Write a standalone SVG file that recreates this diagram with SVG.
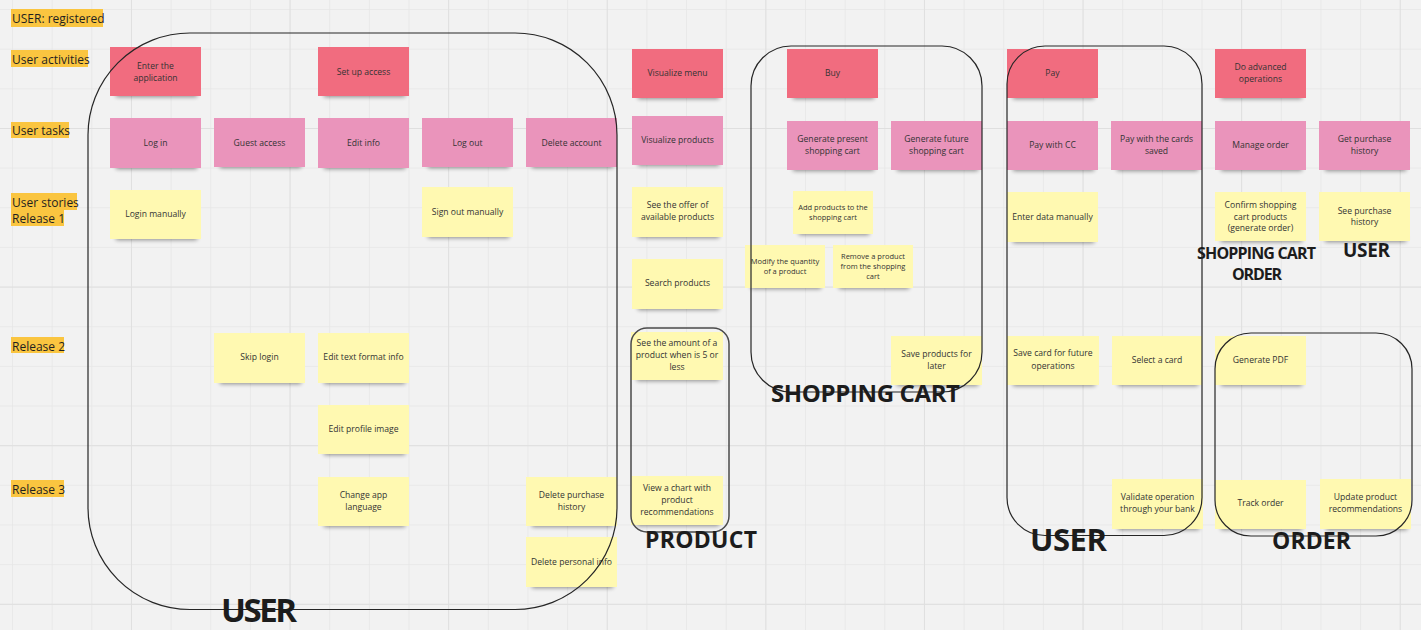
<svg xmlns="http://www.w3.org/2000/svg" width="1421" height="630" viewBox="0 0 1421 630">
  <defs>
    <!-- board grid: minor cells and a heavier line every fourth cell -->
    <pattern id="gridMinor" patternUnits="userSpaceOnUse" x="12" y="9" width="39.65" height="39.65">
      <path d="M0 0H39.65M0 0V39.65" fill="none" stroke="#e6e6e6" stroke-width="1.6"/>
    </pattern>
    <pattern id="gridMajor" patternUnits="userSpaceOnUse" x="-27.65" y="-30.6" width="158.6" height="158.6">
      <path d="M0 0H158.6M0 0V158.6" fill="none" stroke="#dfdfdf" stroke-width="1.8"/>
    </pattern>
    <filter id="soft" x="-20%" y="-100%" width="140%" height="300%">
      <feGaussianBlur stdDeviation="2"/>
    </filter>
    <style>
      .sh { fill: #000; opacity: .42; filter: url(#soft); }
      .act { fill: #f16c7f; }
      .task { fill: #ea94bb; }
      .story { fill: #fff9b1; }
      .t { font-family: "Open Sans", "Liberation Sans", sans-serif; font-size: 8.6px; fill: #333; text-anchor: middle; }
      .ts { font-size: 7.5px; }
      .hl { fill: #fac540; }
      .lbl { font-family: "Open Sans", "Liberation Sans", sans-serif; font-size: 12px; fill: #1f1f1f; }
      .frame { fill: none; stroke: #262626; stroke-width: 1.2; }
      .big { font-family: "Open Sans", "Liberation Sans", sans-serif; font-weight: 700; fill: #1c1c1c; }
    </style>
  </defs>

  <rect width="1421" height="630" fill="#f2f2f2"/>
  <rect width="1421" height="630" fill="url(#gridMinor)"/>
  <rect width="1421" height="630" fill="url(#gridMajor)"/>

  <!-- row headings -->
  <g id="row-labels">
    <rect class="hl" x="11" y="9" width="92" height="18"/>
    <text class="lbl" x="12" y="22.5">USER: registered</text>
    <rect class="hl" x="11" y="50" width="77" height="17"/>
    <text class="lbl" x="12" y="63.5">User activities</text>
    <rect class="hl" x="11" y="122" width="58" height="16"/>
    <text class="lbl" x="12" y="135">User tasks</text>
    <rect class="hl" x="11" y="193" width="66" height="17"/>
    <text class="lbl" x="12" y="206.5">User stories</text>
    <rect class="hl" x="11" y="210" width="53" height="16"/>
    <text class="lbl" x="12" y="223">Release 1</text>
    <rect class="hl" x="11" y="337" width="53" height="16"/>
    <text class="lbl" x="12" y="350.5">Release 2</text>
    <rect class="hl" x="11" y="480" width="53" height="17"/>
    <text class="lbl" x="12" y="494">Release 3</text>
  </g>

  <!-- activities -->
  <g id="act-enter"><rect class="sh" x="116" y="89" width="81" height="8"/><rect class="act" x="110" y="47" width="91" height="49"/><text class="t"><tspan x="155.5" y="68.5">Enter the</tspan><tspan x="155.5" y="80.5">application</tspan></text></g>
  <g id="act-setup"><rect class="sh" x="324" y="89" width="81" height="8"/><rect class="act" x="318" y="47" width="91" height="49"/><text class="t" x="363.5" y="74.5">Set up access</text></g>
  <g id="act-menu"><rect class="sh" x="638" y="91" width="81" height="8"/><rect class="act" x="632" y="49" width="91" height="49"/><text class="t" x="677.5" y="76">Visualize menu</text></g>
  <g id="act-buy"><rect class="sh" x="793" y="91" width="81" height="8"/><rect class="act" x="787" y="49" width="91" height="49"/><text class="t" x="832.5" y="76">Buy</text></g>
  <g id="act-pay"><rect class="sh" x="1013" y="91" width="81" height="8"/><rect class="act" x="1007" y="49" width="91" height="49"/><text class="t" x="1052.5" y="76">Pay</text></g>
  <g id="act-advanced"><rect class="sh" x="1221" y="91" width="81" height="8"/><rect class="act" x="1215" y="49" width="91" height="49"/><text class="t"><tspan x="1260.5" y="70">Do advanced</tspan><tspan x="1260.5" y="82">operations</tspan></text></g>

  <!-- tasks -->
  <g id="task-login"><rect class="sh" x="116" y="161" width="81" height="8"/><rect class="task" x="110" y="118" width="91" height="50"/><text class="t" x="155.5" y="145.5">Log in</text></g>
  <g id="task-guest"><rect class="sh" x="220" y="160" width="81" height="8"/><rect class="task" x="214" y="118" width="91" height="49"/><text class="t" x="259.5" y="145.5">Guest access</text></g>
  <g id="task-edit"><rect class="sh" x="324" y="161" width="81" height="8"/><rect class="task" x="318" y="118" width="91" height="50"/><text class="t" x="363.5" y="145.5">Edit info</text></g>
  <g id="task-logout"><rect class="sh" x="428" y="160" width="81" height="8"/><rect class="task" x="422" y="118" width="91" height="49"/><text class="t" x="467.5" y="145.5">Log out</text></g>
  <g id="task-delete"><rect class="sh" x="532" y="160" width="81" height="8"/><rect class="task" x="526" y="118" width="91" height="49"/><text class="t" x="571.5" y="145.5">Delete account</text></g>
  <g id="task-products"><rect class="sh" x="638" y="158" width="81" height="8"/><rect class="task" x="632" y="116" width="91" height="49"/><text class="t" x="677.5" y="142.5">Visualize products</text></g>
  <g id="task-present"><rect class="sh" x="793" y="163" width="81" height="8"/><rect class="task" x="787" y="121" width="91" height="49"/><text class="t"><tspan x="832.5" y="142">Generate present</tspan><tspan x="832.5" y="154">shopping cart</tspan></text></g>
  <g id="task-future"><rect class="sh" x="897" y="163" width="81" height="8"/><rect class="task" x="891" y="121" width="91" height="49"/><text class="t"><tspan x="936.5" y="142">Generate future</tspan><tspan x="936.5" y="154">shopping cart</tspan></text></g>
  <g id="task-paycc"><rect class="sh" x="1013" y="163" width="81" height="8"/><rect class="task" x="1007" y="121" width="91" height="49"/><text class="t" x="1052.5" y="148">Pay with CC</text></g>
  <g id="task-paysaved"><rect class="sh" x="1117" y="163" width="81" height="8"/><rect class="task" x="1111" y="121" width="91" height="49"/><text class="t"><tspan x="1156.5" y="142">Pay with the cards</tspan><tspan x="1156.5" y="154">saved</tspan></text></g>
  <g id="task-manage"><rect class="sh" x="1221" y="163" width="81" height="8"/><rect class="task" x="1215" y="121" width="91" height="49"/><text class="t" x="1260.5" y="148">Manage order</text></g>
  <g id="task-history"><rect class="sh" x="1325" y="163" width="81" height="8"/><rect class="task" x="1319" y="121" width="91" height="49"/><text class="t"><tspan x="1364.5" y="142">Get purchase</tspan><tspan x="1364.5" y="154">history</tspan></text></g>

  <!-- stories: release 1 -->
  <g id="story-login-manual"><rect class="sh" x="116" y="232" width="81" height="8"/><rect class="story" x="110" y="190" width="91" height="49"/><text class="t" x="155.5" y="216.5">Login manually</text></g>
  <g id="story-signout"><rect class="sh" x="428" y="230" width="81" height="8"/><rect class="story" x="422" y="187" width="91" height="50"/><text class="t" x="467.5" y="214.7">Sign out manually</text></g>
  <g id="story-offer"><rect class="sh" x="638" y="230" width="81" height="8"/><rect class="story" x="632" y="187" width="91" height="50"/><text class="t"><tspan x="677.5" y="208">See the offer of</tspan><tspan x="677.5" y="220">available products</tspan></text></g>
  <g id="story-add"><rect class="sh" x="799" y="227" width="70" height="8"/><rect class="story" x="793" y="191" width="80" height="43"/><text class="t ts"><tspan x="833" y="209.7">Add products to the</tspan><tspan x="833" y="219.7">shopping cart</tspan></text></g>
  <g id="story-modify"><rect class="sh" x="751" y="281" width="70" height="8"/><rect class="story" x="745" y="245" width="80" height="43"/><text class="t ts"><tspan x="785" y="263.5">Modify the quantity</tspan><tspan x="785" y="273.5">of a product</tspan></text></g>
  <g id="story-remove"><rect class="sh" x="839" y="281" width="70" height="8"/><rect class="story" x="833" y="245" width="80" height="43"/><text class="t ts"><tspan x="873" y="258.7">Remove a product</tspan><tspan x="873" y="269">from the shopping</tspan><tspan x="873" y="279">cart</tspan></text></g>
  <g id="story-enter-data"><rect class="sh" x="1013" y="235" width="81" height="8"/><rect class="story" x="1007" y="192" width="91" height="50"/><text class="t" x="1052.5" y="219.7">Enter data manually</text></g>
  <g id="story-confirm"><rect class="sh" x="1221" y="234" width="81" height="8"/><rect class="story" x="1215" y="192" width="91" height="49"/><text class="t"><tspan x="1260.5" y="208">Confirm shopping</tspan><tspan x="1260.5" y="219.7">cart products</tspan><tspan x="1260.5" y="231.3">(generate order)</tspan></text></g>
  <g id="story-see-history"><rect class="sh" x="1325" y="234" width="81" height="8"/><rect class="story" x="1319" y="192" width="91" height="49"/><text class="t"><tspan x="1364.5" y="213.7">See purchase</tspan><tspan x="1364.5" y="225.3">history</tspan></text></g>
  <g id="story-search"><rect class="sh" x="638" y="302" width="81" height="8"/><rect class="story" x="632" y="259" width="91" height="50"/><text class="t" x="677.5" y="286.3">Search products</text></g>

  <!-- stories: release 2 -->
  <g id="story-skip-login"><rect class="sh" x="220" y="376" width="81" height="8"/><rect class="story" x="214" y="333" width="91" height="50"/><text class="t" x="259.5" y="360.3">Skip login</text></g>
  <g id="story-edit-text"><rect class="sh" x="324" y="376" width="81" height="8"/><rect class="story" x="318" y="333" width="91" height="50"/><text class="t" x="363.5" y="360.3">Edit text format info</text></g>
  <g id="story-amount"><rect class="sh" x="637" y="373" width="82" height="8"/><rect class="story" x="631" y="332" width="92" height="48"/><text class="t"><tspan x="677" y="346.3">See the amount of a</tspan><tspan x="677" y="358">product when is 5 or</tspan><tspan x="677" y="369.7">less</tspan></text></g>
  <g id="story-save-later"><rect class="sh" x="897" y="378" width="81" height="8"/><rect class="story" x="891" y="336" width="91" height="49"/><text class="t"><tspan x="936.5" y="357">Save products for</tspan><tspan x="936.5" y="368.7">later</tspan></text></g>
  <g id="story-save-card"><rect class="sh" x="1013" y="378" width="82" height="8"/><rect class="story" x="1007" y="336" width="92" height="49"/><text class="t"><tspan x="1053" y="356.3">Save card for future</tspan><tspan x="1053" y="368.7">operations</tspan></text></g>
  <g id="story-select-card"><rect class="sh" x="1118" y="378" width="80" height="8"/><rect class="story" x="1112" y="336" width="90" height="49"/><text class="t" x="1157" y="363">Select a card</text></g>
  <g id="story-pdf"><rect class="sh" x="1221" y="378" width="81" height="8"/><rect class="story" x="1215" y="336" width="91" height="49"/><text class="t" x="1260.5" y="363">Generate PDF</text></g>
  <g id="story-edit-image"><rect class="sh" x="324" y="447" width="81" height="8"/><rect class="story" x="318" y="405" width="91" height="49"/><text class="t" x="363.5" y="432">Edit profile image</text></g>

  <!-- stories: release 3 -->
  <g id="story-language"><rect class="sh" x="324" y="519" width="81" height="8"/><rect class="story" x="318" y="477" width="91" height="49"/><text class="t"><tspan x="363.5" y="498">Change app</tspan><tspan x="363.5" y="509.7">language</tspan></text></g>
  <g id="story-del-history"><rect class="sh" x="532" y="519" width="81" height="8"/><rect class="story" x="526" y="477" width="91" height="49"/><text class="t"><tspan x="571.5" y="498">Delete purchase</tspan><tspan x="571.5" y="509.7">history</tspan></text></g>
  <g id="story-chart"><rect class="sh" x="637" y="518" width="82" height="8"/><rect class="story" x="631" y="476" width="92" height="49"/><text class="t"><tspan x="677" y="491.3">View a chart with</tspan><tspan x="677" y="503">product</tspan><tspan x="677" y="514.7">recommendations</tspan></text></g>
  <g id="story-validate"><rect class="sh" x="1118" y="522" width="81" height="8"/><rect class="story" x="1112" y="479" width="91" height="50"/><text class="t"><tspan x="1157.5" y="500">Validate operation</tspan><tspan x="1157.5" y="512">through your bank</tspan></text></g>
  <g id="story-track"><rect class="sh" x="1221" y="522" width="81" height="8"/><rect class="story" x="1215" y="480" width="91" height="49"/><text class="t" x="1260.5" y="506">Track order</text></g>
  <g id="story-update-rec"><rect class="sh" x="1326" y="522" width="81" height="8"/><rect class="story" x="1320" y="479" width="91" height="50"/><text class="t"><tspan x="1365.5" y="500.3">Update product</tspan><tspan x="1365.5" y="512">recommendations</tspan></text></g>
  <g id="story-del-personal"><rect class="sh" x="532" y="580" width="81" height="8"/><rect class="story" x="526" y="537" width="91" height="50"/><text class="t" x="571.5" y="564.7">Delete personal info</text></g>

  <!-- grouping frames drawn over the notes -->
  <g id="frames">
    <rect class="frame" x="88" y="33" width="529" height="576.5" rx="102"/>
    <rect class="frame" x="631" y="328" width="98" height="204" rx="16" style="stroke:#4a4a4a;stroke-width:1.5"/>
    <rect class="frame" x="751" y="46" width="231" height="346" rx="40"/>
    <rect class="frame" x="1007" y="46" width="195" height="489.5" rx="38"/>
    <rect class="frame" x="1215" y="333" width="197" height="203" rx="36"/>
  </g>

  <!-- frame titles -->
  <g id="frame-titles">
    <text class="big" x="221" y="622" font-size="33" textLength="76">USER</text>
    <text class="big" x="645" y="548" font-size="23" textLength="112">PRODUCT</text>
    <text class="big" x="771" y="402" font-size="24" textLength="189">SHOPPING CART</text>
    <text class="big" x="1197" y="259" font-size="16" textLength="119">SHOPPING CART</text>
    <text class="big" x="1232" y="280" font-size="16" textLength="50">ORDER</text>
    <text class="big" x="1343" y="257" font-size="19" textLength="47">USER</text>
    <text class="big" x="1030" y="551" font-size="31" textLength="77">USER</text>
    <text class="big" x="1272" y="549" font-size="23" textLength="79">ORDER</text>
  </g>
</svg>
